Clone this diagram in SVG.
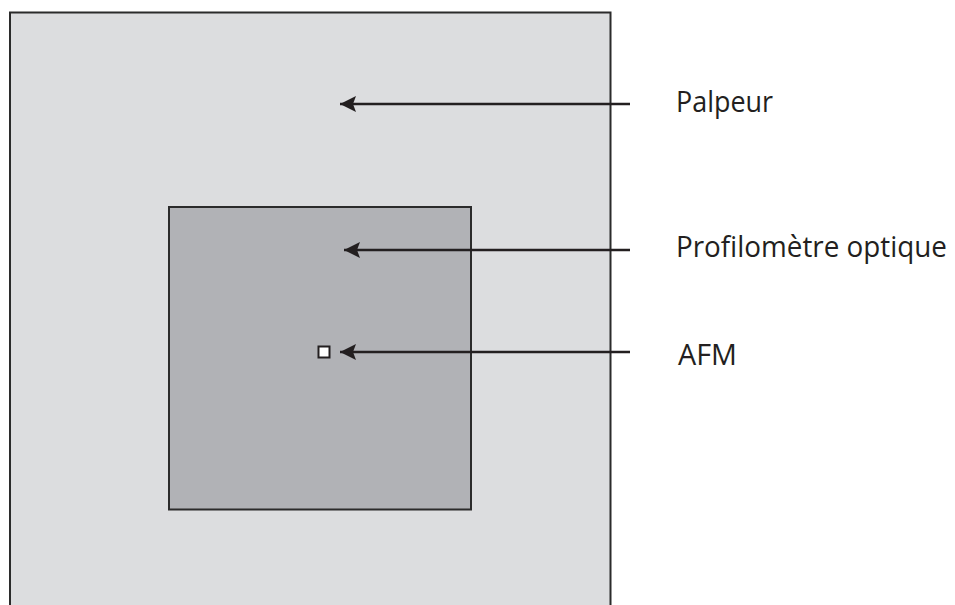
<svg xmlns="http://www.w3.org/2000/svg" width="955" height="605" viewBox="0 0 955 605">
<style>
.lbl{font-family:"Open Sans","Noto Sans",sans-serif;font-size:28.5px;fill:#231f20}
.arr{stroke:#231f20;stroke-width:2.6;fill:none;marker-end:url(#ah)}
</style>
<defs>
<marker id="ah" markerUnits="userSpaceOnUse" markerWidth="20" markerHeight="20" refX="16" refY="9" orient="auto">
<path d="M0,1 L16,9 L0,17 L3,9 Z" fill="#231f20"/>
</marker>
</defs>
<rect width="955" height="605" fill="#fff"/>
<g id="palpeur">
<rect x="10" y="12.5" width="600.5" height="610" fill="#dcdddf" stroke="#2b2b2b" stroke-width="2"/>
</g>
<g id="profilometre">
<rect x="169" y="207" width="302" height="302.5" fill="#b1b2b6" stroke="#2b2b2b" stroke-width="2"/>
</g>
<g id="afm">
<rect x="318.5" y="346.5" width="11" height="11" fill="#fff" stroke="#231f20" stroke-width="2"/>
</g>
<g id="connectors">
<line class="arr" x1="630" y1="104" x2="340" y2="104"/>
<line class="arr" x1="630" y1="250" x2="344" y2="250"/>
<line class="arr" x1="630" y1="352" x2="340" y2="352"/>
</g>
<g id="labels">
<text class="lbl" x="676" y="112" textLength="97" lengthAdjust="spacingAndGlyphs">Palpeur</text>
<text class="lbl" x="676" y="257" textLength="271" lengthAdjust="spacingAndGlyphs">Profilomètre optique</text>
<text class="lbl" x="678" y="365" textLength="59" lengthAdjust="spacingAndGlyphs">AFM</text>
</g>
</svg>
